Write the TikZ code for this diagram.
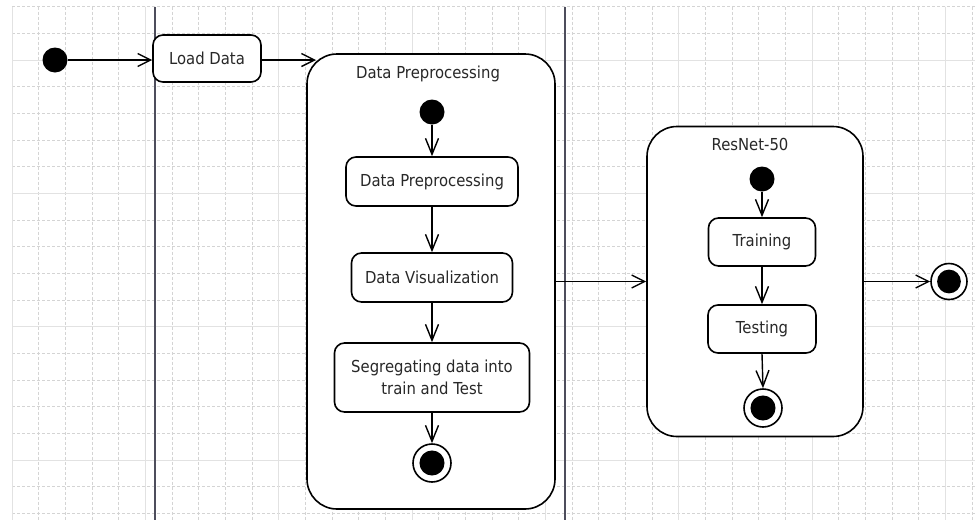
\documentclass[tikz,border=0pt]{standalone}
\usepackage{fontspec}
\setmainfont{DejaVu Sans}[FakeStretch=0.9]
\usetikzlibrary{arrows.meta}
\definecolor{gridminor}{RGB}{212,212,212}
\definecolor{gridmajor}{RGB}{226,226,226}
\definecolor{lane}{RGB}{78,78,92}
\definecolor{inktext}{RGB}{40,40,40}
\begin{document}
\begin{tikzpicture}[x=1pt,y=-1pt,
  every node/.style={font=\fontsize{16.5}{22}\selectfont, text=inktext},
  minorgrid/.style={gridminor, line width=0.8pt, dash pattern=on 3pt off 2pt},
  majorgrid/.style={gridmajor, line width=0.9pt},
  laneline/.style={lane, line width=1.5pt},
  state/.style={draw, fill=white, line width=1.6pt, rounded corners=10pt, inner sep=0pt, align=center},
  region/.style={draw, fill=white, line width=1.6pt, rounded corners=30pt, inner sep=0pt},
  startdot/.style={circle, fill=black, minimum size=25pt, inner sep=0pt},
  enddot/.style={circle, draw, fill=white, line width=1.6pt, minimum size=#1, inner sep=0pt,
    path picture={\fill[black] (path picture bounding box.center) circle (0.33*#1);}},
  enddot/.default=38pt,
  flowh/.style={line width=1.4pt, -{Straight Barb[length=13pt,width=13pt,line width=1.4pt]}},
  flowv/.style={line width=1.4pt, -{Straight Barb[length=16pt,width=13pt,line width=1.4pt]}}
]
\useasboundingbox (0,0) rectangle (975,520);
\fill[white] (0,0) rectangle (975,520);

% background grid: dashed minor lines, solid major lines every fifth step
\foreach \i in {0,...,36}
  \draw[minorgrid] ({12+26.6667*\i},6.667) -- ({12+26.6667*\i},520);
\foreach \j in {0,...,19}
  \draw[minorgrid] (12,{6.667+26.6667*\j}) -- (975,{6.667+26.6667*\j});
\foreach \i in {0,...,7}
  \draw[majorgrid] ({12+133.333*\i},6.667) -- ({12+133.333*\i},520);
\foreach \y in {60,193.333,326.667,460}
  \draw[majorgrid] (12,\y) -- (975,\y);

% lane separators
\draw[laneline] (155,6.667) -- (155,520);
\draw[laneline] (565,6.667) -- (565,520);

% top level flow
\node[startdot] (start) at (55,60) {};
\node[state, minimum width=108pt, minimum height=47pt] (load) at (207,58.5) {Load Data};

% composite state: data preprocessing
\node[region, minimum width=248pt, minimum height=455pt] (pre) at (431,281.5) {};
\node (pretitle) at (428,74) {Data Preprocessing};
\node[startdot] (pstart) at (432,112) {};
\node[state, minimum width=172pt, minimum height=49pt] (pbox1) at (432,181.5) {Data Preprocessing};
\node[state, minimum width=161pt, minimum height=49pt] (pbox2) at (432,277.5) {Data Visualization};
\node[state, minimum width=195pt, minimum height=69pt] (pbox3) at (432,377.5) {Segregating data into\\train and Test};
\node[enddot] (pend) at (432,463) {};

% composite state: ResNet-50
\node[region, minimum width=216pt, minimum height=310pt] (resnet) at (755,281.5) {};
\node (rtitle) at (750,144) {ResNet-50};
\node[startdot] (rstart) at (762,179) {};
\node[state, minimum width=107pt, minimum height=48pt] (rbox1) at (762,242) {Training};
\node[state, minimum width=108pt, minimum height=48pt] (rbox2) at (762,329) {Testing};
\node[enddot] (rend) at (763,408) {};

% overall final state
\node[enddot=36pt] (finish) at (949,281.5) {};

\coordinate (preIn) at (316,60);

% transitions
\draw[flowh] (start.east) -- (start.east -| load.west);
\draw[flowh] (start.east -| load.east) -- (preIn);
\draw[flowv] (pstart.south) -- (pbox1.north);
\draw[flowv] (pbox1.south) -- (pbox2.north);
\draw[flowv] (pbox2.south) -- (pbox3.north);
\draw[flowv] (pbox3.south) -- (pend.north);
\draw[flowh] (pre.east) -- (resnet.west);
\draw[flowv] (rstart.south) -- (rbox1.north);
\draw[flowv] (rbox1.south) -- (rbox2.north);
\draw[flowv] (rbox2.south) -- (rend.north);
\draw[flowh] (resnet.east) -- (finish.west);
\end{tikzpicture}
\end{document}
